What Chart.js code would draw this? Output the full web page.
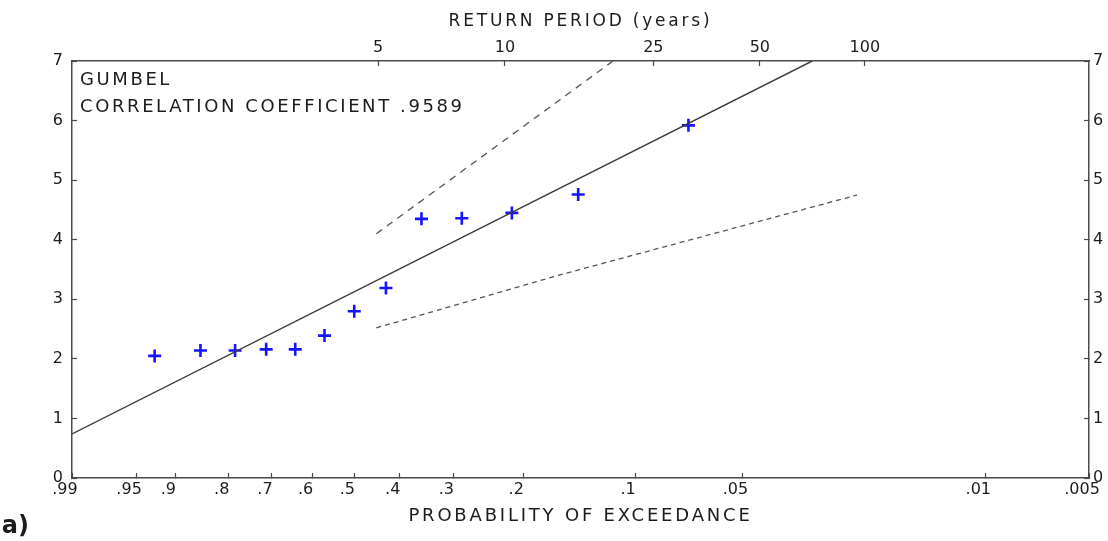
<!DOCTYPE html>
<html>
<head>
<meta charset="utf-8">
<title>Gumbel probability plot</title>
<script src="https://cdn.jsdelivr.net/npm/chart.js@4.4.1/dist/chart.umd.min.js"></script>
<style>
  html, body { margin: 0; padding: 0; background: #fff; }
  #chart { display: block; width: 1108px; height: 541px; }
</style>
</head>
<body>
<canvas id="chart" width="1108" height="541"></canvas>
<script>
"use strict";

// ---- data ------------------------------------------------------------------
// observed annual maxima, plotted at their exceedance probability
const obsProb = [0.929, 0.857, 0.786, 0.714, 0.643, 0.571, 0.500, 0.429, 0.357, 0.286, 0.214, 0.143, 0.071];
const obsDepth = [2.05, 2.14, 2.14, 2.16, 2.16, 2.39, 2.80, 3.19, 4.35, 4.36, 4.45, 4.76, 5.92];

// fitted Gumbel line and the two confidence limits
const fitProb = [0.99, 0.0316];
const fitDepth = [0.74, 7.0];
const upperProb = [0.45, 0.16, 0.115];
const upperDepth = [4.10, 6.35, 7.0];
const lowerProb = [0.45, 0.16, 0.066, 0.0235];
const lowerDepth = [2.52, 3.41, 4.04, 4.75];

// axes
const probTicks = [0.99, 0.95, 0.9, 0.8, 0.7, 0.6, 0.5, 0.4, 0.3, 0.2, 0.1, 0.05, 0.01, 0.005];
const probLabels = [".99", ".95", ".9", ".8", ".7", ".6", ".5", ".4", ".3", ".2", ".1", ".05", ".01", ".005"];
const periodLabels = ["5", "10", "25", "50", "100"];
const periodProb = [0.446, 0.223, 0.089, 0.0446, 0.0223]; // where the return-period ticks sit
const depthMin = 0;
const depthMax = 7;

const noteLines = ["GUMBEL", "CORRELATION COEFFICIENT .9589"];
const panelLabel = "(a)";

// ---- helpers ---------------------------------------------------------------
const FONT = "'DejaVu Sans', 'Liberation Sans', sans-serif";
const INK = "#1c1c1c";
const FRAME = "#4a4a4a";

// Gumbel reduced variate for an exceedance probability
function gumbel(p) {
  return -Math.log(-Math.log(1 - p));
}
function toPoints(probs, vals) {
  return probs.map((p, i) => ({ x: gumbel(p), y: vals[i] }));
}

const X_MIN = gumbel(probTicks[0]);
const X_MAX = gumbel(probTicks[probTicks.length - 1]);

const frameGrid = { display: true, drawOnChartArea: false, drawTicks: true, tickLength: -5, tickColor: FRAME, tickWidth: 1.2 };
const frameBorder = { display: true, color: FRAME, width: 1.5 };

function tickStyle(padding, extra) {
  return Object.assign({ color: INK, font: { family: FONT, size: 16 }, padding: padding, z: 1, autoSkip: false, maxRotation: 0 }, extra);
}

// fixed box sizes so the frame lands where it does in the picture
function fixHeight(h) {
  return (s) => { s.height = h; s.paddingLeft = 0; s.paddingRight = 0; };
}
function fixWidth(w) {
  return (s) => { s.width = w; s.paddingTop = 0; s.paddingBottom = 0; };
}

// titles get wider letter spacing, tick numbers none
const spacingPlugin = {
  id: "spacing",
  beforeDraw(chart) { chart.ctx.letterSpacing = "2.8px"; },
  beforeDatasetsDraw(chart) { chart.ctx.letterSpacing = "0px"; },
};

// text inside the frame + panel letter
const notesPlugin = {
  id: "notes",
  afterDraw(chart) {
    const { ctx, chartArea } = chart;
    ctx.save();
    ctx.fillStyle = INK;
    ctx.letterSpacing = "2.6px";
    ctx.font = "18px " + FONT;
    ctx.textAlign = "left";
    ctx.textBaseline = "alphabetic";
    noteLines.forEach((t, i) => ctx.fillText(t, chartArea.left + 8, chartArea.top + 24 + i * 26.5));
    ctx.letterSpacing = "0px";
    ctx.font = "bold 24px " + FONT;
    ctx.textAlign = "right";
    ctx.fillText(panelLabel, 29, 533);
    ctx.restore();
  },
};

// ---- chart -----------------------------------------------------------------
new Chart(document.getElementById("chart"), {
  type: "scatter",
  data: {
    datasets: [
      {
        label: "fit",
        data: toPoints(fitProb, fitDepth),
        showLine: true, borderColor: "#3a3a3a", borderWidth: 1.4, pointRadius: 0, tension: 0,
      },
      {
        label: "observed",
        data: toPoints(obsProb, obsDepth),
        pointStyle: "cross", pointRadius: 6.5, pointBorderWidth: 2.6,
        borderColor: "#1414ff", backgroundColor: "#1414ff",
      },
      {
        label: "upper",
        data: toPoints(upperProb, upperDepth),
        showLine: true, borderColor: "#555", borderWidth: 1.3, borderDash: [7, 6], pointRadius: 0, tension: 0,
      },
      {
        label: "lower",
        data: toPoints(lowerProb, lowerDepth),
        showLine: true, borderColor: "#555", borderWidth: 1.3, borderDash: [5, 4], pointRadius: 0, tension: 0,
      },
    ],
  },
  options: {
    responsive: false,
    animation: false,
    layout: { padding: 0 },
    plugins: { legend: { display: false }, tooltip: { enabled: false } },
    scales: {
      x: {
        type: "linear", position: "bottom", min: X_MIN, max: X_MAX,
        afterBuildTicks: (s) => { s.ticks = probTicks.map((p) => ({ value: gumbel(p) })); },
        afterFit: fixHeight(63),
        ticks: tickStyle(7, { labelOffset: -7, callback: (v, i) => probLabels[i] }),
        grid: frameGrid, border: frameBorder,
        title: { display: true, text: "PROBABILITY OF EXCEEDANCE", color: INK, font: { family: FONT, size: 18 }, padding: { top: 0, bottom: 14 } },
      },
      x2: {
        type: "linear", position: "top", min: X_MIN, max: X_MAX,
        afterBuildTicks: (s) => { s.ticks = periodProb.map((p) => ({ value: gumbel(p) })); },
        afterFit: fixHeight(61),
        ticks: tickStyle(9, { callback: (v, i) => periodLabels[i] }),
        grid: frameGrid, border: frameBorder,
        title: { display: true, text: "RETURN PERIOD (years)", color: INK, font: { family: FONT, size: 17 }, padding: { top: 11, bottom: 0 } },
      },
      y: {
        type: "linear", position: "left", min: depthMin, max: depthMax,
        afterFit: fixWidth(72),
        ticks: tickStyle(14, { stepSize: 1 }),
        grid: frameGrid, border: frameBorder,
      },
      y2: {
        type: "linear", position: "right", min: depthMin, max: depthMax,
        afterFit: fixWidth(19),
        ticks: tickStyle(9, { stepSize: 1 }),
        grid: frameGrid, border: frameBorder,
      },
    },
  },
  plugins: [spacingPlugin, notesPlugin],
});
</script>
</body>
</html>
